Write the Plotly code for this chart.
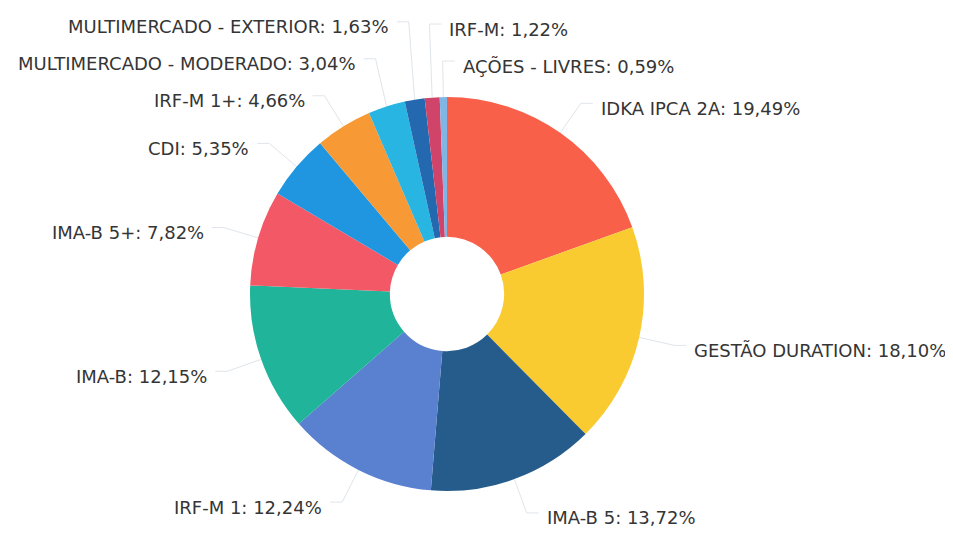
import math
import plotly.graph_objects as go

labels = ["IDKA IPCA 2A", "GESTÃO DURATION", "IMA-B 5", "IRF-M 1", "IMA-B", "IMA-B 5+",
          "CDI", "IRF-M 1+", "MULTIMERCADO - MODERADO", "MULTIMERCADO - EXTERIOR",
          "IRF-M", "AÇÕES - LIVRES"]
values = [19.49, 18.10, 13.72, 12.24, 12.15, 7.82, 5.35, 4.66, 3.04, 1.63, 1.22, 0.59]
colors = ["#F8604A", "#F9CB30", "#255C8C", "#5A80D0", "#20B49A", "#F25866",
          "#2196E0", "#F79A35", "#29B5E2", "#2469B0", "#D0446A", "#7FB6E6"]

# ---- geometry (pixels, figure coordinates) ----
W, H = 953, 534
CX, CY, R = 439, 286, 197
L1, L2, GAP, SPACING, TEXT_DY = 36, 12, 6, 37, 5
TOP_RIGHT_DEG = 8  # labels this close to the top go to the right side

fig = go.Figure()

fig.add_trace(go.Pie(
    labels=labels, values=values, sort=False, direction="clockwise", rotation=0,
    hole=0.29, marker=dict(colors=colors, line=dict(width=0)),
    textinfo="none", showlegend=False, hoverinfo="label+percent",
    domain=dict(x=[(CX - R) / W, (CX + R) / W], y=[1 - (CY + R) / H, 1 - (CY - R) / H]),
))

# compute label placement from the data
total = sum(values)
items = []
cum = 0.0
for lab, v in zip(labels, values):
    mid = (cum + v / 2) / total * 360.0
    cum += v
    a = math.radians(mid)
    side = 1 if (mid < 180 or mid > 360 - TOP_RIGHT_DEG) else -1
    signed = mid if mid <= 180 else mid - 360
    ex, ey = CX + R * math.sin(a), CY - R * math.cos(a)
    mx, my = CX + (R + L1) * math.sin(a), CY - (R + L1) * math.cos(a)
    items.append(dict(label=lab, value=v, side=side, mid=mid, signed=signed,
                      ex=ex, ey=ey, mx=mx, y=my))

for side in (1, -1):
    grp = [it for it in items if it["side"] == side]
    # order top -> bottom
    if side == 1:
        grp.sort(key=lambda it: it["signed"])
    else:
        grp.sort(key=lambda it: it["mid"], reverse=True)
    # push upwards from the bottom to avoid overlaps
    for i in range(len(grp) - 2, -1, -1):
        grp[i]["y"] = min(grp[i]["y"], grp[i + 1]["y"] - SPACING)

annotations = []
for it in items:
    s = it["side"]
    x2 = it["mx"] + s * L2
    fig.add_trace(go.Scatter(
        x=[it["ex"], it["mx"], x2], y=[it["ey"], it["y"], it["y"]],
        mode="lines", line=dict(color="#dfe5ea", width=1),
        hoverinfo="skip", showlegend=False,
    ))
    txt = f"{it['label']}: {it['value']:.2f}".replace(".", ",") + "%"
    annotations.append(dict(
        x=x2 + s * GAP, y=it["y"] + TEXT_DY, xref="x", yref="y",
        text=txt, showarrow=False, xanchor="left" if s == 1 else "right", yanchor="middle",
        font=dict(family="DejaVu Sans", size=18, color="#353535"),
    ))

fig.update_layout(
    width=W, height=H, margin=dict(l=0, r=0, t=0, b=0),
    paper_bgcolor="white", plot_bgcolor="white",
    xaxis=dict(range=[0, W], visible=False, fixedrange=True),
    yaxis=dict(range=[H, 0], visible=False, fixedrange=True),
    annotations=annotations,
)
fig.write_html("out.html")
